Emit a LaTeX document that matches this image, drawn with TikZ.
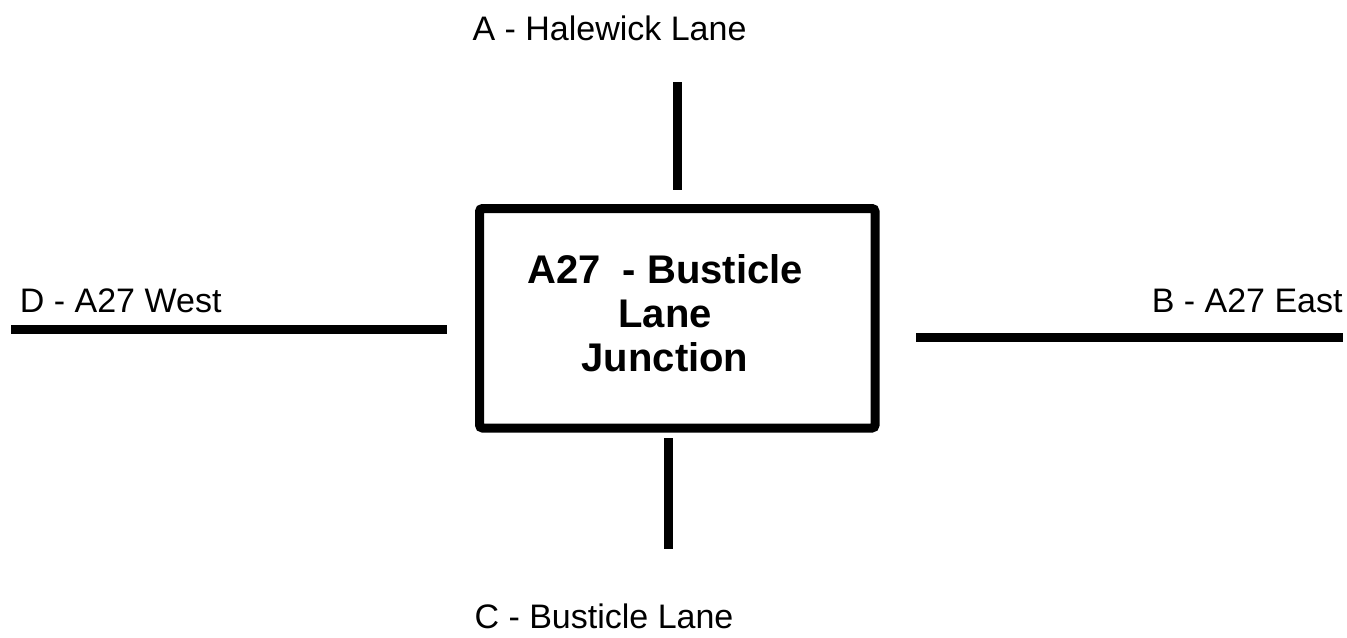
\documentclass[tikz,border=0pt]{standalone}
\usepackage{fontspec}
\setmainfont{Liberation Sans}
\newlength{\du}
\setlength{\du}{0.5pt}
\tikzset{
  road/.style={line width=9\du, line cap=butt},
  roadlabel/.style={font=\fontsize{17pt}{20pt}\selectfont, inner sep=0pt},
  junction/.style={draw, line width=9\du, rounded corners=1.5pt, minimum width=395.5\du, minimum height=219.5\du, inner sep=0pt},
  junctiontext/.style={font=\bfseries\fontsize{20pt}{22pt}\selectfont, align=center, inner sep=0pt}
}

\begin{document}
\begin{tikzpicture}
\pgftransformyscale{-1}
\useasboundingbox (0\du,0\du) rectangle (1347\du,637\du);
\definecolor{dialinecolor}{rgb}{0.000000, 0.000000, 0.000000}
\pgfsetstrokecolor{dialinecolor}
% the junction box
\node[junction, draw=dialinecolor] (box) at (677.250000\du,318.250000\du){};
\node[junctiontext] (title) at (665.000000\du,313.000000\du){A27\ \ - Busticle\\Lane\\Junction};
% road arms
\coordinate (atop) at (677.500000\du,82.000000\du);
\coordinate (abot) at (677.500000\du,190.000000\du);
\coordinate (ctop) at (668.000000\du,438.000000\du);
\coordinate (cbot) at (668.000000\du,549.000000\du);
\coordinate (dwest) at (11.000000\du,329.500000\du);
\coordinate (deast) at (447.000000\du,329.500000\du);
\coordinate (bwest) at (916.000000\du,337.000000\du);
\coordinate (beast) at (1343.000000\du,337.000000\du);
\draw[road, dialinecolor] (atop)--(abot);
\draw[road, dialinecolor] (ctop)--(cbot);
\draw[road, dialinecolor] (dwest)--(deast);
\draw[road, dialinecolor] (bwest)--(beast);
% road names
\node[roadlabel, anchor=base] (alabel) at (609.500000\du,40.000000\du){A - Halewick Lane};
\node[roadlabel, anchor=base west] (dlabel) at (19.500000\du,312.000000\du){D - A27 West};
\node[roadlabel, anchor=base east] (blabel) at (1343.000000\du,312.000000\du){B - A27 East};
\node[roadlabel, anchor=base] (clabel) at (604.000000\du,628.000000\du){C - Busticle Lane};
\end{tikzpicture}
\end{document}
